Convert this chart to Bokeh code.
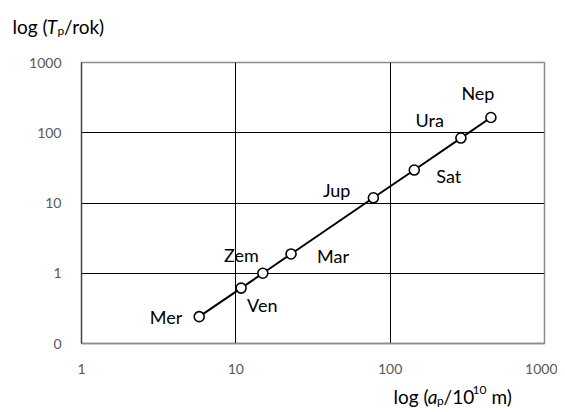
from bokeh.plotting import figure
from bokeh.layouts import column, row
from bokeh.models import FixedTicker, ColumnDataSource, Range1d
from bokeh.core.properties import value
from bokeh.embed import file_html
from bokeh.resources import INLINE

# ---- data ----
planets = ["Mer", "Ven", "Zem", "Mar", "Jup", "Sat", "Ura", "Nep"]
a_p = [5.79, 10.82, 14.96, 22.79, 77.85, 143.3, 287.2, 449.5]   # 10^10 m
T_p = [0.241, 0.615, 1.0, 1.881, 11.86, 29.46, 84.01, 164.8]    # years
x_ticks = [1, 10, 100, 1000]
x_tick_labels = ["1", "10", "100", "1000"]
y_ticks = [0.1, 1, 10, 100, 1000]
y_tick_labels = ["0", "1", "10", "100", "1000"]

# axis title pieces (text, style)
y_title_parts = ["log (", "T", "p", "/rok)"]
y_title_styles = ["normal", "italic", "normal", "normal"]
x_title_parts = ["log (", "a", "p", "/10", "10", "m)"]
x_title_styles = ["normal", "italic", "normal", "normal", "normal", "normal"]

# label placement (pixels, relative to each point)
label_dx = [-17, 6, -4, 26, -23, 22, -17, -13]
label_dy = [0, 17, -18, 2, -8, 6, -18, -25]
label_align = ["right", "left", "right", "left", "right", "left", "right", "center"]

FONT = "Lato"
W = 557
TOP_H, MAIN_H, BOT_H = 52, 326, 30


def strip(height):
    s = figure(width=W, height=height, x_range=Range1d(0, W), y_range=Range1d(0, height),
               output_backend="svg", toolbar_location=None,
               x_axis_location=None, y_axis_location=None,
               min_border=0, min_border_left=0, min_border_right=0,
               min_border_top=0, min_border_bottom=0)
    s.grid.visible = False
    s.outline_line_color = None
    s.background_fill_color = "white"
    s.border_fill_color = "white"
    return s


# ---- main chart ----
p = figure(width=W, height=MAIN_H, x_axis_type="log", y_axis_type="log",
           x_range=Range1d(1, 1000), y_range=Range1d(0.1, 1000),
           output_backend="svg", toolbar_location=None,
           min_border_left=81, min_border_right=13,
           min_border_top=10, min_border_bottom=35)
p.background_fill_color = "white"
p.border_fill_color = "white"
p.outline_line_color = "#8c8c8c"
p.outline_line_width = 1.5

p.xaxis.ticker = FixedTicker(ticks=x_ticks)
p.yaxis.ticker = FixedTicker(ticks=y_ticks)
p.xaxis.major_label_overrides = {t: s for t, s in zip(x_ticks, x_tick_labels)}
p.yaxis.major_label_overrides = {t: s for t, s in zip(y_ticks, y_tick_labels)}
for ax in (p.xaxis, p.yaxis):
    ax.major_tick_line_color = None
    ax.minor_tick_line_color = None
    ax.major_label_text_font = FONT
    ax.major_label_text_font_size = "14px"
    ax.major_label_text_color = "#595959"
    ax.major_label_standoff = 14
p.xaxis.axis_line_color = "#8c8c8c"
p.xaxis.axis_line_width = 1.5
p.yaxis.axis_line_color = "#404040"
p.yaxis.axis_line_width = 1.2

p.xgrid.ticker = FixedTicker(ticks=[10, 100])
p.ygrid.ticker = FixedTicker(ticks=[1, 10, 100])
p.xgrid.grid_line_color = "black"
p.ygrid.grid_line_color = "black"
p.xgrid.grid_line_width = 1
p.ygrid.grid_line_width = 1

src = ColumnDataSource(dict(a=a_p, T=T_p, name=planets, dx=label_dx, dy=label_dy,
                            align=label_align))
p.line("a", "T", source=src, line_color="black", line_width=2)
p.scatter("a", "T", source=src, size=10, fill_color="white", line_color="black",
          line_width=1.6)
p.text("a", "T", text="name", source=src, x_offset="dx", y_offset="dy",
       text_align="align", text_baseline="middle", text_font=value(FONT),
       text_font_size="18px", text_color="black")

# ---- y-axis title strip (above the chart) ----
top = strip(TOP_H)
top.text(x=[12, 46.2, 57, 63.6], y=[26, 26, 22, 26], text=y_title_parts,
         text_font_style=y_title_styles,
         text_font_size=["19px", "19px", "12px", "19px"],
         text_font=value(FONT), text_color="black",
         text_align="left", text_baseline="alphabetic")

# ---- x-axis title strip (below the chart) ----
bot = strip(BOT_H)
bot.text(x=[393, 427.2, 436.5, 443.1, 472.1, 491], y=[12, 12, 8, 12, 19, 12],
         text=x_title_parts, text_font_style=x_title_styles,
         text_font_size=["19px", "19px", "12px", "19px", "12px", "19px"],
         text_font=value(FONT), text_color="black",
         text_align="left", text_baseline="alphabetic")

layout = column(row(top), p, row(bot), spacing=0)
open("out.html", "w").write(file_html(layout, INLINE))
